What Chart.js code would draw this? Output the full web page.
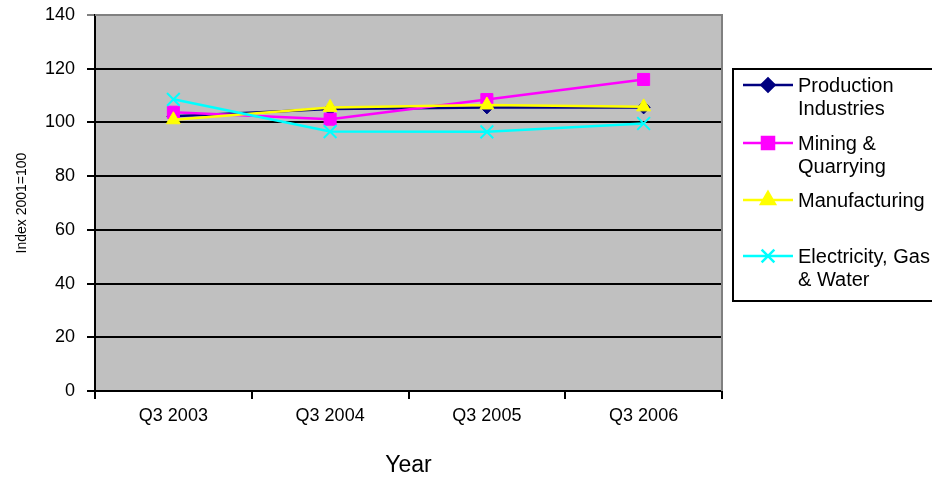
<!DOCTYPE html>
<html>
<head>
<meta charset="utf-8">
<script src="https://cdn.jsdelivr.net/npm/chart.js@4.4.0/dist/chart.umd.min.js"></script>
<style>
  html, body { margin: 0; padding: 0; background: #fff; }
  #wrap { width: 932px; height: 477px; }
</style>
</head>
<body>
<div id="wrap"><canvas id="chart" width="932" height="477"></canvas></div>
<script>
const categories = ['Q3 2003', 'Q3 2004', 'Q3 2005', 'Q3 2006'];
const production = [102.3, 105.0, 105.6, 105.6];
const mining = [103.8, 101.2, 108.5, 116.0];
const manufacturing = [101.0, 105.6, 106.5, 105.8];
const electricity = [108.6, 96.6, 96.5, 99.6];
const seriesNames = ['Production Industries', 'Mining & Quarrying', 'Manufacturing', 'Electricity, Gas & Water'];
const legendLines = [['Production', 'Industries'], ['Mining &', 'Quarrying'], ['Manufacturing'], ['Electricity, Gas', '& Water']];
const yTicks = [0, 20, 40, 60, 80, 100, 120, 140];

const FONT = '"Liberation Sans", Arial, sans-serif';

function series(label, data, color, style, radius, order) {
  return {
    label: label,
    data: data,
    borderColor: color,
    backgroundColor: color,
    borderWidth: 2.5,
    tension: 0,
    pointStyle: style,
    pointRadius: radius,
    pointHoverRadius: radius,
    pointBorderWidth: style === 'crossRot' ? 2 : 1,
    pointBackgroundColor: color,
    pointBorderColor: color,
    order: order
  };
}

const plotBackground = {
  id: 'plotBackground',
  beforeDraw(chart) {
    const a = chart.chartArea, ctx = chart.ctx;
    ctx.save();
    ctx.fillStyle = '#c0c0c0';
    ctx.fillRect(a.left, a.top, a.right - a.left, a.bottom - a.top);
    ctx.restore();
  },
  beforeDatasetsDraw(chart) {
    const a = chart.chartArea, ctx = chart.ctx;
    ctx.save();
    ctx.strokeStyle = '#808080';
    ctx.lineWidth = 2;
    ctx.beginPath();
    ctx.moveTo(a.left, a.top);
    ctx.lineTo(a.right, a.top);
    ctx.lineTo(a.right, a.bottom);
    ctx.stroke();
    ctx.restore();
  }
};

// legend box on the right, drawn by hand because labels wrap
const sideLegend = {
  id: 'sideLegend',
  afterDraw(chart) {
    const ctx = chart.ctx;
    const rows = [85, 143, 200, 256];
    ctx.save();
    ctx.strokeStyle = '#000';
    ctx.lineWidth = 2;
    ctx.strokeRect(733, 69, 210, 232);
    chart.data.datasets.forEach((ds, i) => {
      const y = rows[i];
      ctx.strokeStyle = ds.borderColor;
      ctx.lineWidth = 2.5;
      ctx.beginPath();
      ctx.moveTo(743, y);
      ctx.lineTo(793, y);
      ctx.stroke();
      ctx.fillStyle = ds.borderColor;
      Chart.helpers.drawPoint(ctx, {
        pointStyle: ds.pointStyle,
        radius: ds.pointRadius,
        rotation: 0,
        borderWidth: ds.pointBorderWidth
      }, 768, y);
      ctx.fillStyle = '#000';
      ctx.font = '20px ' + FONT;
      ctx.textBaseline = 'middle';
      ctx.textAlign = 'left';
      legendLines[i].forEach((t, j) => ctx.fillText(t, 798, y + 1 + j * 23.3));
    });
    ctx.restore();
  }
};

new Chart(document.getElementById('chart'), {
  type: 'line',
  data: {
    labels: categories,
    datasets: [
      series(seriesNames[0], production, '#000080', 'rectRot', 6.5, 4),
      series(seriesNames[1], mining, '#ff00ff', 'rect', 8.5, 3),
      series(seriesNames[2], manufacturing, '#ffff00', 'triangle', 8, 2),
      series(seriesNames[3], electricity, '#00ffff', 'crossRot', 9, 1)
    ]
  },
  options: {
    responsive: false,
    animation: false,
    layout: { padding: { top: 15, right: 210, left: 0, bottom: 0 } },
    plugins: {
      legend: { display: false },
      tooltip: { enabled: false }
    },
    scales: {
      x: {
        offset: true,
        grid: {
          offset: true,
          drawOnChartArea: false,
          color: '#000',
          lineWidth: 2,
          tickLength: 8
        },
        border: { color: '#000', width: 2 },
        ticks: {
          color: '#000',
          font: { family: FONT, size: 18 },
          padding: 6,
          maxRotation: 0
        },
        title: {
          display: true,
          text: 'Year',
          color: '#000',
          font: { family: FONT, size: 23, lineHeight: 1.0 },
          padding: { top: 0, bottom: 0 }
        },
        afterFit(scale) { scale.height = 86; }
      },
      y: {
        min: 0,
        max: 140,
        afterBuildTicks(scale) { scale.ticks = yTicks.map(v => ({ value: v })); },
        grid: {
          color: ctx => ctx.tick && ctx.tick.value === 140 ? '#808080' : '#000',
          lineWidth: 2,
          tickLength: 8
        },
        border: { color: '#000', width: 2 },
        ticks: {
          color: '#000',
          font: { family: FONT, size: 18, lineHeight: 0.3 },
          padding: 12
        },
        title: {
          display: true,
          text: 'Index 2001=100',
          color: '#000',
          font: { family: FONT, size: 14 },
          padding: { top: 14, bottom: 0 }
        },
        afterFit(scale) { scale.width = 95; }
      }
    }
  },
  plugins: [plotBackground, sideLegend]
});
</script>
</body>
</html>
